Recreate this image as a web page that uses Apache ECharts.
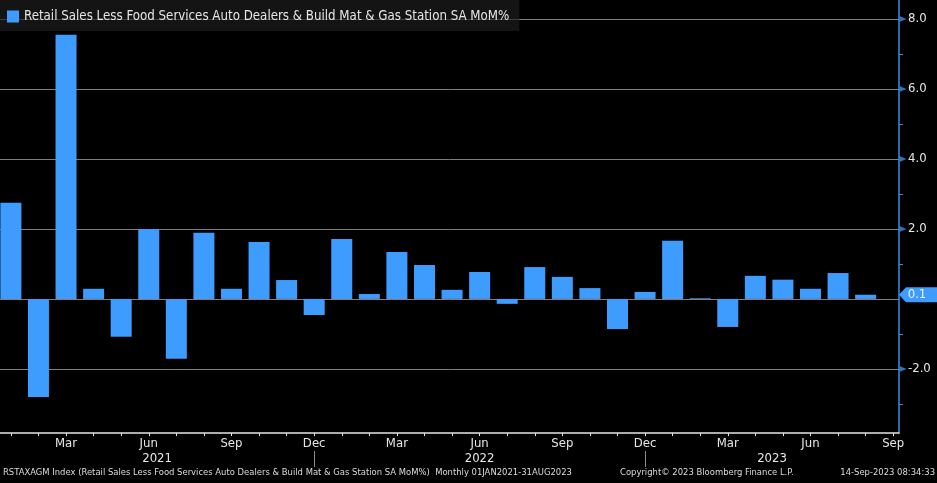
<!DOCTYPE html>
<html><head><meta charset="utf-8">
<script src="https://cdn.jsdelivr.net/npm/echarts@6/dist/echarts.min.js"></script>
<style>html,body{margin:0;padding:0;background:#000;}#c{width:937px;height:483px;}</style>
</head><body><div id="c"></div>
<script>
const months = ['Jan 2021','Feb 2021','Mar 2021','Apr 2021','May 2021','Jun 2021','Jul 2021','Aug 2021','Sep 2021','Oct 2021','Nov 2021','Dec 2021',
  'Jan 2022','Feb 2022','Mar 2022','Apr 2022','May 2022','Jun 2022','Jul 2022','Aug 2022','Sep 2022','Oct 2022','Nov 2022','Dec 2022',
  'Jan 2023','Feb 2023','Mar 2023','Apr 2023','May 2023','Jun 2023','Jul 2023','Aug 2023','Sep 2023'];
const values = [2.75,-2.8,7.55,0.29,-1.08,2.0,-1.71,1.89,0.29,1.63,0.54,-0.46,
  1.71,0.14,1.34,0.97,0.26,0.77,-0.14,0.91,0.63,0.31,-0.86,0.2,
  1.66,0.02,-0.8,0.66,0.55,0.29,0.74,0.12];
const labelMonths = ['Mar','Jun','Sep','Dec'];
const dividerMonth = 'Dec';
const yLabels = [-2,2,4,6,8];
const yMinorTicks = [-3,-1,1,3,5,7];
const seriesName = 'Retail Sales Less Food Services Auto Dealers & Build Mat & Gas Station SA MoM%';
const footerLeft = 'RSTAXAGM Index (Retail Sales Less Food Services Auto Dealers & Build Mat & Gas Station SA MoM%)  Monthly 01JAN2021-31AUG2023';
const footerMid = 'Copyright\u00A9 2023 Bloomberg Finance L.P.';
const footerRight = '14-Sep-2023 08:34:33';

const FONT = "'DejaVu Sans Condensed','Liberation Sans',sans-serif";
const xMin = -0.395, xMax = 32.21, yMin = -3.83, yMax = 8.54;
const BAR = '#3d9cfd', AXB = '#3a8ee6', TXT = '#e6e6e6';

const monthIdx = months.map((m, i) => i);
const labelIdx = monthIdx.filter(i => labelMonths.includes(months[i].slice(0, 3)));
const dividerIdx = monthIdx.filter(i => months[i].slice(0, 3) === dividerMonth && i < values.length - 1);
const yearOf = i => months[i].slice(4);
// year labels centred between the year dividers / axis ends
const bounds = [xMin, ...dividerIdx, xMax];
const yearMids = bounds.slice(1).map((b, k) => (bounds[k] + b) / 2);
const yearFor = v => yearOf(Math.min(months.length - 1, Math.max(0, Math.ceil(v))));
const last = values[values.length - 1];

const chart = echarts.init(document.getElementById('c'));
chart.setOption({
  backgroundColor: '#000',
  animation: false,
  textStyle: { fontFamily: FONT },
  grid: { left: 0, right: 38, top: 0, bottom: 50, containLabel: false },
  legend: {
    data: [seriesName], left: 0, top: 0, padding: [10, 10, 8, 7],
    itemWidth: 12, itemHeight: 12, icon: 'rect',
    backgroundColor: 'rgba(30,30,30,0.65)',
    textStyle: { color: TXT, fontSize: 13.2, fontFamily: FONT }
  },
  xAxis: [{
    type: 'value', min: xMin, max: xMax, position: 'bottom',
    axisLine: { show: true, onZero: false, lineStyle: { color: TXT, width: 1.5 } },
    axisTick: { show: true, customValues: monthIdx, length: 3, lineStyle: { color: TXT } },
    axisLabel: { customValues: labelIdx, formatter: v => months[Math.round(v)].slice(0, 3), color: TXT, fontSize: 13, margin: 4, fontFamily: FONT },
    splitLine: { show: false }
  }, {
    type: 'value', min: xMin, max: xMax, position: 'bottom', offset: 18,
    axisLine: { show: false, onZero: false },
    axisTick: { show: true, customValues: dividerIdx, length: 16, lineStyle: { color: '#8c8c8c' } },
    axisLabel: { customValues: yearMids, formatter: v => yearFor(v), color: TXT, fontSize: 13, margin: 1, fontFamily: FONT },
    splitLine: { show: false }
  }],
  yAxis: [{
    type: 'value', position: 'right', min: yMin, max: yMax,
    axisLine: { show: true, onZero: false, lineStyle: { color: AXB, width: 1.5 } },
    axisTick: { show: false },
    axisLabel: { customValues: yLabels, formatter: v => v.toFixed(1), color: TXT, fontSize: 13, margin: 9, fontFamily: FONT },
    splitLine: { show: true, showMinLine: false, showMaxLine: false, lineStyle: { color: '#7f7f7f', width: 1 } }
  }, {
    type: 'value', position: 'right', min: yMin, max: yMax,
    axisLine: { show: false, onZero: false },
    axisTick: { show: true, customValues: yMinorTicks, length: 4, lineStyle: { color: AXB } },
    axisLabel: { show: false },
    splitLine: { show: false }
  }],
  series: [{
    type: 'bar', name: seriesName, xAxisIndex: 0, yAxisIndex: 0,
    data: values.map((v, i) => [i, v]), barWidth: 21,
    itemStyle: { color: BAR, borderWidth: 0 }, z: 2,
    markPoint: {
      silent: true,
      symbol: 'path://M0,7.5L7,0L40,0L40,15L7,15Z', symbolSize: [40, 15], symbolOffset: [20, 0],
      itemStyle: { color: BAR },
      label: { show: true, formatter: last.toFixed(1), color: '#eaf2ff', fontSize: 13, offset: [-2, 0], fontFamily: FONT },
      data: [{ coord: [xMax, last] }]
    }
  }, {
    type: 'scatter', xAxisIndex: 0, yAxisIndex: 0, silent: true, clip: false, z: 5,
    data: yLabels.map(v => [xMax, v]),
    symbol: 'path://M0,0L10,5L0,10Z', symbolSize: [7, 6], symbolOffset: [4, 0],
    itemStyle: { color: AXB }
  }],
  graphic: [
    { type: 'text', x: 3, y: 473, style: { text: footerLeft, fill: '#dcdcdc', fontSize: 9.4, fontFamily: FONT, verticalAlign: 'middle' } },
    { type: 'text', x: 620, y: 473, style: { text: footerMid, fill: '#dcdcdc', fontSize: 9.4, fontFamily: FONT, verticalAlign: 'middle' } },
    { type: 'text', x: 935, y: 473, style: { text: footerRight, fill: '#dcdcdc', fontSize: 9.4, fontFamily: FONT, align: 'right', verticalAlign: 'middle' } }
  ]
});
</script>
</body></html>
